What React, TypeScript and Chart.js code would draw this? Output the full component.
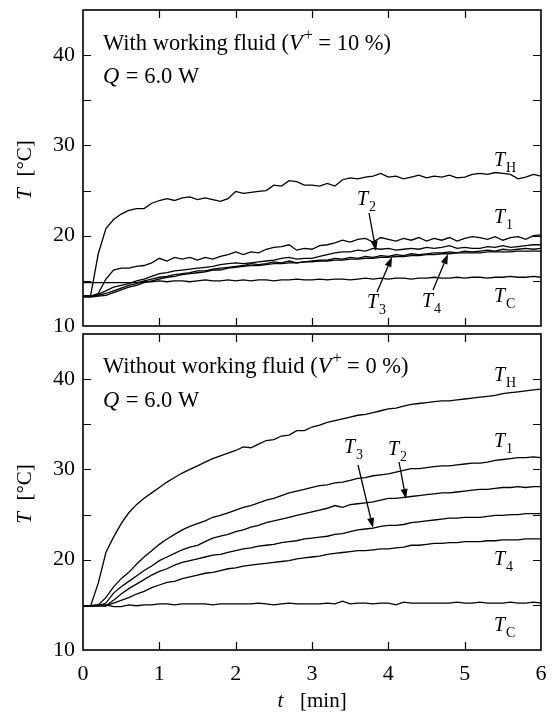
import React, { useEffect, useRef } from "react";
import { Chart, registerables } from "chart.js";

Chart.register(...registerables);

// ---------------- data ----------------
const TIME = [
  0.0, 0.1, 0.2, 0.3, 0.4, 0.5, 0.6, 0.7, 0.8, 0.9,
  1.0, 1.1, 1.2, 1.3, 1.4, 1.5, 1.6, 1.7, 1.8, 1.9,
  2.0, 2.1, 2.2, 2.3, 2.4, 2.5, 2.6, 2.7, 2.8, 2.9,
  3.0, 3.1, 3.2, 3.3, 3.4, 3.5, 3.6, 3.7, 3.8, 3.9,
  4.0, 4.1, 4.2, 4.3, 4.4, 4.5, 4.6, 4.7, 4.8, 4.9,
  5.0, 5.1, 5.2, 5.3, 5.4, 5.5, 5.6, 5.7, 5.8, 5.9,
  6.0,
];

// With working fluid (V+ = 10 %)
const WF_TH = [
  13.3, 13.4, 18.0, 20.8, 21.8, 22.4, 22.8, 23.0, 23.0, 23.6,
  23.9, 24.1, 23.9, 24.2, 24.3, 24.0, 24.2, 24.0, 23.8, 24.1,
  24.9, 24.7, 24.8, 24.9, 25.0, 25.6, 25.5, 26.1, 26.0, 25.6,
  25.6, 25.5, 25.8, 25.5, 26.2, 26.4, 26.3, 26.5, 26.6, 26.9,
  26.5, 26.6, 26.3, 26.5, 26.7, 26.4, 26.6, 26.5, 26.7, 26.4,
  26.5, 26.8, 26.9, 26.8, 27.0, 26.9, 26.8, 26.3, 26.5, 26.8,
  26.6,
];
const WF_T1 = [
  13.3, 13.3, 13.6, 15.2, 16.2, 16.4, 16.4, 16.6, 16.7, 17.0,
  17.5, 17.2, 17.6, 17.4, 17.6, 17.3, 17.6, 17.4, 17.7, 17.9,
  18.2, 17.9, 18.2, 18.1, 18.5, 18.7, 18.8, 19.0, 18.4, 18.6,
  18.5, 18.9, 19.0, 19.2, 19.5, 19.3, 19.6, 19.7, 19.3, 19.8,
  19.6, 19.4, 19.7, 19.5, 19.8, 19.4, 19.7, 19.5, 19.8, 19.4,
  19.7, 19.9, 19.8, 19.6, 19.9, 19.5, 19.8, 19.9, 19.6, 20.0,
  20.1,
];
const WF_T2 = [
  13.3, 13.3, 13.5, 13.9, 14.3, 14.5, 14.7, 15.0, 15.2, 15.5,
  15.8, 15.9, 16.1, 16.2, 16.3, 16.4, 16.5, 16.6, 16.8, 16.9,
  17.0, 16.9, 17.0, 17.1, 17.2, 17.3, 17.5, 17.6, 17.4, 17.5,
  17.5, 17.7, 17.9, 18.1, 18.2, 18.2, 18.4, 18.3, 18.6, 18.5,
  18.6, 18.4, 18.5, 18.6, 18.5, 18.7, 18.6, 18.7, 18.9, 18.6,
  18.7, 18.6, 18.6, 18.8, 18.7, 18.9, 18.7, 18.8, 18.9, 19.0,
  19.0,
];
const WF_T3 = [
  13.3, 13.3, 13.4, 13.6, 13.9, 14.2, 14.5, 14.7, 15.0, 15.2,
  15.4, 15.5, 15.7, 15.8, 15.9, 16.1, 16.1, 16.3, 16.4, 16.5,
  16.6, 16.7, 16.9, 16.8, 16.9, 17.1, 17.0, 17.2, 17.0, 17.1,
  17.2, 17.3, 17.3, 17.5, 17.4, 17.6, 17.5, 17.7, 17.6, 17.8,
  17.7, 17.9, 17.8, 18.0, 17.9, 18.0, 18.1, 18.1, 18.2, 18.1,
  18.3, 18.2, 18.3, 18.4, 18.3, 18.5, 18.4, 18.5, 18.6, 18.5,
  18.6,
];
const WF_T4 = [
  13.2, 13.2, 13.3, 13.4, 13.7, 14.0, 14.3, 14.5, 14.8, 15.0,
  15.2, 15.4, 15.5, 15.7, 15.8, 15.9, 16.0, 16.2, 16.2, 16.4,
  16.5, 16.6, 16.7, 16.7, 16.8, 16.9, 16.9, 17.0, 17.0, 17.1,
  17.1, 17.2, 17.2, 17.3, 17.3, 17.4, 17.4, 17.5, 17.5, 17.6,
  17.6, 17.7, 17.7, 17.8, 17.8, 17.9, 17.9, 18.0, 18.0, 18.1,
  18.1, 18.1, 18.1, 18.2, 18.2, 18.2, 18.2, 18.3, 18.3, 18.3,
  18.3,
];
const WF_TC = [
  14.8, 14.8, 14.8, 14.8, 14.8, 14.8, 14.8, 14.8, 14.9, 14.9,
  15.0, 14.9, 15.0, 15.0, 14.9, 15.0, 15.1, 15.0, 15.0, 15.1,
  15.0, 15.1, 15.0, 15.1, 15.1, 15.0, 15.1, 15.1, 15.2, 15.1,
  15.1, 15.2, 15.1, 15.2, 15.2, 15.1, 15.2, 15.3, 15.2, 15.3,
  15.2, 15.3, 15.3, 15.2, 15.3, 15.3, 15.4, 15.3, 15.3, 15.4,
  15.3, 15.4, 15.4, 15.3, 15.4, 15.4, 15.5, 15.4, 15.4, 15.5,
  15.4,
];

// Without working fluid (V+ = 0 %)
const NF_TH = [
  14.9, 14.9, 17.4, 20.8, 22.5, 24.0, 25.2, 26.1, 26.8, 27.4,
  28.0, 28.6, 29.1, 29.6, 30.0, 30.4, 30.8, 31.2, 31.5, 31.8,
  32.1, 32.5, 32.4, 32.8, 33.2, 33.3, 33.7, 33.8, 34.3, 34.3,
  34.7, 34.9, 35.2, 35.4, 35.6, 35.8, 36.0, 36.1, 36.3, 36.5,
  36.7, 36.8, 37.0, 37.2, 37.3, 37.4, 37.5, 37.6, 37.6, 37.7,
  37.8, 37.9, 38.0, 38.1, 38.2, 38.4, 38.5, 38.6, 38.7, 38.8,
  38.9,
];
const NF_T1 = [
  14.9, 14.9, 15.0, 15.8, 17.0, 17.9, 18.6, 19.5, 20.3, 21.0,
  21.7, 22.3, 22.8, 23.3, 23.7, 24.0, 24.3, 24.7, 24.9, 25.2,
  25.5, 25.8, 26.0, 26.3, 26.6, 26.8, 27.1, 27.4, 27.6, 27.8,
  28.0, 28.2, 28.3, 28.5, 28.6, 28.8, 29.0, 29.1, 29.3, 29.4,
  29.5, 29.7, 29.9, 30.1, 30.1, 30.2, 30.3, 30.4, 30.4, 30.5,
  30.6, 30.7, 30.7, 30.8, 31.0, 31.1, 31.2, 31.3, 31.3, 31.4,
  31.3,
];
const NF_T2 = [
  14.9, 14.9, 14.9, 15.2, 16.3, 17.0, 17.6, 18.2, 18.8, 19.3,
  19.9, 20.3, 20.7, 21.1, 21.4, 21.6, 22.0, 22.4, 22.6, 22.8,
  23.1, 23.3, 23.6, 23.8, 24.1, 24.3, 24.5, 24.7, 24.9, 25.1,
  25.3, 25.5, 25.7, 26.0, 25.8, 26.1, 26.2, 26.3, 26.4, 26.6,
  26.8, 26.8, 26.9, 27.0, 27.1, 27.2, 27.3, 27.4, 27.4, 27.5,
  27.6, 27.7, 27.8, 27.8, 27.9, 28.0, 28.0, 28.1, 28.0, 28.1,
  28.1,
];
const NF_T3 = [
  14.9, 14.9, 14.9, 14.9, 15.5, 16.2, 16.8, 17.3, 17.8, 18.3,
  18.7, 19.0, 19.4, 19.7, 19.9, 20.1, 20.3, 20.5, 20.6, 20.8,
  21.0, 21.2, 21.3, 21.5, 21.6, 21.7, 21.9, 22.0, 22.1, 22.3,
  22.4, 22.5, 22.6, 22.8, 22.9, 23.1, 23.3, 23.4, 23.5, 23.7,
  23.8, 23.8, 23.9, 24.1, 24.2, 24.3, 24.4, 24.5, 24.6, 24.6,
  24.7, 24.7, 24.7, 24.8, 24.9, 24.9, 25.0, 25.0, 25.1, 25.1,
  25.1,
];
const NF_T4 = [
  14.9, 14.9, 14.9, 14.9, 15.2, 15.5, 15.8, 16.2, 16.5, 16.9,
  17.2, 17.5, 17.6, 17.9, 18.1, 18.3, 18.5, 18.6, 18.8, 19.0,
  19.1, 19.3, 19.4, 19.5, 19.6, 19.7, 19.8, 19.9, 20.1, 20.2,
  20.3, 20.4, 20.6, 20.7, 20.8, 20.9, 21.0, 21.0, 21.1, 21.2,
  21.2, 21.3, 21.4, 21.6, 21.6, 21.7, 21.8, 21.8, 21.9, 21.9,
  22.0, 22.0, 22.0, 22.1, 22.1, 22.2, 22.2, 22.2, 22.3, 22.3,
  22.3,
];
const NF_TC = [
  14.9, 14.9, 15.0, 15.0, 14.8, 14.8, 15.0, 14.9, 15.0, 15.0,
  15.1, 15.1, 15.0, 15.1, 15.1, 15.1, 15.1, 15.0, 15.1, 15.1,
  15.1, 15.1, 15.1, 15.2, 15.1, 15.0, 15.1, 15.2, 15.1, 15.1,
  15.1, 15.1, 15.2, 15.1, 15.4, 15.1, 15.2, 15.2, 15.1, 15.2,
  15.2, 15.0, 15.3, 15.2, 15.2, 15.2, 15.2, 15.2, 15.2, 15.3,
  15.2, 15.2, 15.3, 15.2, 15.2, 15.2, 15.3, 15.2, 15.2, 15.3,
  15.2,
];

const X_TICKS = [0, 1, 2, 3, 4, 5, 6];
const Y_TICKS = [10, 20, 30, 40];
const Y_MINOR = [15, 20, 25, 30, 35, 40];
const X_MIN = 0;
const X_MAX = 6;
const Y_MIN = 10;
const Y_MAX = 45;

// ---------------- styling / layout ----------------
const FONT = '"Liberation Serif", "Times New Roman", serif';
const W = 552;
const H = 714;
const BIG = 22.5;
const LBL = 20;

type Seg = { t: string; it?: boolean; sub?: boolean; sup?: boolean };
type TextItem = { x: number; y: number; segs: Seg[]; size?: number };
type Arrow = [number, number, number, number];

const TL = (s: string): Seg[] => [{ t: "T", it: true }, { t: s, sub: true }];

const TOP_TEXTS: TextItem[] = [
  { x: 103, y: 50, segs: [{ t: "With working fluid (" }, { t: "V", it: true }, { t: "+", sup: true }, { t: " = 10 %)" }] },
  { x: 103, y: 83, segs: [{ t: "Q", it: true }, { t: " = 6.0 W" }] },
  { x: 494, y: 166, segs: TL("H"), size: LBL },
  { x: 494, y: 223, segs: TL("1"), size: LBL },
  { x: 357, y: 205, segs: TL("2"), size: LBL },
  { x: 367, y: 308, segs: TL("3"), size: LBL },
  { x: 422, y: 307, segs: TL("4"), size: LBL },
  { x: 494, y: 302, segs: TL("C"), size: LBL },
];
const TOP_ARROWS: Arrow[] = [
  [369, 213, 376, 251],
  [377, 292, 392, 257],
  [433, 290, 448, 254],
];
const BOT_TEXTS: TextItem[] = [
  { x: 103, y: 373, segs: [{ t: "Without working fluid (" }, { t: "V", it: true }, { t: "+", sup: true }, { t: " = 0 %)" }] },
  { x: 103, y: 407, segs: [{ t: "Q", it: true }, { t: " = 6.0 W" }] },
  { x: 494, y: 381, segs: TL("H"), size: LBL },
  { x: 494, y: 447, segs: TL("1"), size: LBL },
  { x: 344, y: 453, segs: TL("3"), size: LBL },
  { x: 388, y: 455, segs: TL("2"), size: LBL },
  { x: 494, y: 565, segs: TL("4"), size: LBL },
  { x: 494, y: 631, segs: TL("C"), size: LBL },
];
const BOT_ARROWS: Arrow[] = [
  [358, 465, 373, 528],
  [399, 462, 406, 499],
];

function drawRich(ctx: CanvasRenderingContext2D, x: number, y: number, segs: Seg[], size = BIG) {
  let cx = x;
  ctx.textBaseline = "alphabetic";
  ctx.textAlign = "left";
  for (const s of segs) {
    const small = s.sub || s.sup;
    const sz = small ? Math.round(size * 0.72) : size;
    ctx.font = `${s.it ? "italic " : ""}${sz}px ${FONT}`;
    const dy = s.sub ? size * 0.3 : s.sup ? -size * 0.45 : 0;
    ctx.fillText(s.t, cx, y + dy);
    cx += ctx.measureText(s.t).width + (s.it && !small ? 1 : 0);
  }
  return cx - x;
}

function measureRich(ctx: CanvasRenderingContext2D, segs: Seg[], size = BIG) {
  let w = 0;
  for (const s of segs) {
    const small = s.sub || s.sup;
    const sz = small ? Math.round(size * 0.72) : size;
    ctx.font = `${s.it ? "italic " : ""}${sz}px ${FONT}`;
    w += ctx.measureText(s.t).width + (s.it && !small ? 1 : 0);
  }
  return w;
}

function drawArrow(ctx: CanvasRenderingContext2D, a: Arrow) {
  const [x1, y1, x2, y2] = a;
  const ang = Math.atan2(y2 - y1, x2 - x1);
  const hl = 10;
  const hw = 3.5;
  const bx = x2 - hl * Math.cos(ang);
  const by = y2 - hl * Math.sin(ang);
  ctx.beginPath();
  ctx.moveTo(x1, y1);
  ctx.lineTo(bx, by);
  ctx.lineWidth = 1.3;
  ctx.strokeStyle = "#000";
  ctx.stroke();
  ctx.beginPath();
  ctx.moveTo(x2, y2);
  ctx.lineTo(bx + hw * Math.sin(ang), by - hw * Math.cos(ang));
  ctx.lineTo(bx - hw * Math.sin(ang), by + hw * Math.cos(ang));
  ctx.closePath();
  ctx.fillStyle = "#000";
  ctx.fill();
}

const Y_TITLE: Seg[] = [{ t: "T", it: true }, { t: "  [\u00B0C]" }];
const X_TITLE: Seg[] = [{ t: "t", it: true }, { t: "   [min]" }];

const framePlugin = {
  id: "framePlugin",
  afterDraw(chart: any, _args: any, opts: any) {
    const ctx: CanvasRenderingContext2D = chart.ctx;
    const { left, right, top, bottom } = chart.chartArea;
    const xs = chart.scales.x;
    const ys = chart.scales.y;
    ctx.save();
    ctx.strokeStyle = "#000";
    ctx.lineWidth = 1.6;
    ctx.strokeRect(left, top, right - left, bottom - top);
    ctx.lineWidth = 1.2;
    const tl = 8;
    ctx.beginPath();
    for (const v of X_TICKS) {
      if (v === X_MIN || v === X_MAX) continue;
      const px = Math.round(xs.getPixelForValue(v)) + 0.5;
      ctx.moveTo(px, bottom);
      ctx.lineTo(px, bottom - tl);
      ctx.moveTo(px, top);
      ctx.lineTo(px, top + tl);
    }
    for (const v of Y_MINOR) {
      const py = Math.round(ys.getPixelForValue(v)) + 0.5;
      ctx.moveTo(left, py);
      ctx.lineTo(left + tl, py);
      ctx.moveTo(right, py);
      ctx.lineTo(right - tl, py);
    }
    ctx.stroke();

    ctx.fillStyle = "#000";
    for (const t of opts.texts as TextItem[]) drawRich(ctx, t.x, t.y, t.segs, t.size ?? BIG);
    for (const a of opts.arrows as Arrow[]) drawArrow(ctx, a);

    // y-axis title
    ctx.save();
    ctx.translate(31, (top + bottom) / 2 + 2);
    ctx.rotate(-Math.PI / 2);
    const wy = measureRich(ctx, Y_TITLE, 21);
    drawRich(ctx, -wy / 2, 0, Y_TITLE, 21);
    ctx.restore();

    if (opts.xTitle) {
      const wx = measureRich(ctx, X_TITLE, 21);
      const cx = (left + right) / 2;
      drawRich(ctx, cx - wx / 2, 707, X_TITLE, 21);
    }
    ctx.restore();
  },
};

function makeDatasets(series: number[][]) {
  return series.map((vals) => ({
    data: TIME.map((t, i) => ({ x: t, y: vals[i] })),
    borderColor: "#000",
    borderWidth: 1.3,
    pointRadius: 0,
    fill: false,
    tension: 0,
  }));
}

function makeConfig(series: number[][], bottomPanel: boolean, texts: TextItem[], arrows: Arrow[]): any {
  const chartTop = bottomPanel ? 334 : 10;
  const chartBottom = bottomPanel ? 650 : 326;
  const xAxisH = 40;
  return {
    type: "line",
    data: { datasets: makeDatasets(series) },
    plugins: [framePlugin],
    options: {
      responsive: false,
      maintainAspectRatio: false,
      animation: false,
      devicePixelRatio: 1,
      layout: {
        padding: {
          left: 0,
          right: W - 541,
          top: chartTop,
          bottom: bottomPanel ? H - chartBottom - xAxisH : H - chartBottom,
        },
      },
      plugins: {
        legend: { display: false },
        tooltip: { enabled: false },
        framePlugin: { texts, arrows, xTitle: bottomPanel },
      },
      scales: {
        x: {
          type: "linear",
          min: X_MIN,
          max: X_MAX,
          display: bottomPanel,
          grid: { display: false, drawTicks: false },
          border: { display: false },
          afterBuildTicks: (s: any) => {
            s.ticks = X_TICKS.map((v) => ({ value: v }));
          },
          ticks: {
            color: "#000",
            font: { family: FONT, size: 22 },
            padding: 11,
            maxRotation: 0,
            autoSkip: false,
          },
          afterFit: (s: any) => {
            if (bottomPanel) s.height = xAxisH;
            s.paddingLeft = 0;
            s.paddingRight = 0;
          },
        },
        y: {
          type: "linear",
          min: Y_MIN,
          max: Y_MAX,
          grid: { display: false, drawTicks: false },
          border: { display: false },
          afterBuildTicks: (s: any) => {
            s.ticks = Y_TICKS.map((v) => ({ value: v }));
          },
          ticks: {
            color: "#000",
            font: { family: FONT, size: 22 },
            padding: 8,
            autoSkip: false,
          },
          afterFit: (s: any) => {
            s.width = 83;
            s.paddingTop = 0;
            s.paddingBottom = 0;
          },
        },
      },
    },
  };
}

function Panel(props: { series: number[][]; bottom: boolean; texts: TextItem[]; arrows: Arrow[] }) {
  const ref = useRef<HTMLCanvasElement | null>(null);
  useEffect(() => {
    if (!ref.current) return;
    const chart = new Chart(ref.current, makeConfig(props.series, props.bottom, props.texts, props.arrows));
    return () => chart.destroy();
  }, []);
  return (
    <canvas
      ref={ref}
      width={W}
      height={H}
      style={{ position: "absolute", left: 0, top: 0, width: W, height: H }}
    />
  );
}

export default function App() {
  return (
    <div style={{ position: "absolute", left: 0, top: 0, width: W, height: H, background: "#fff" }}>
      <Panel series={[WF_TH, WF_T1, WF_T2, WF_T3, WF_T4, WF_TC]} bottom={false} texts={TOP_TEXTS} arrows={TOP_ARROWS} />
      <Panel series={[NF_TH, NF_T1, NF_T2, NF_T3, NF_T4, NF_TC]} bottom={true} texts={BOT_TEXTS} arrows={BOT_ARROWS} />
    </div>
  );
}
